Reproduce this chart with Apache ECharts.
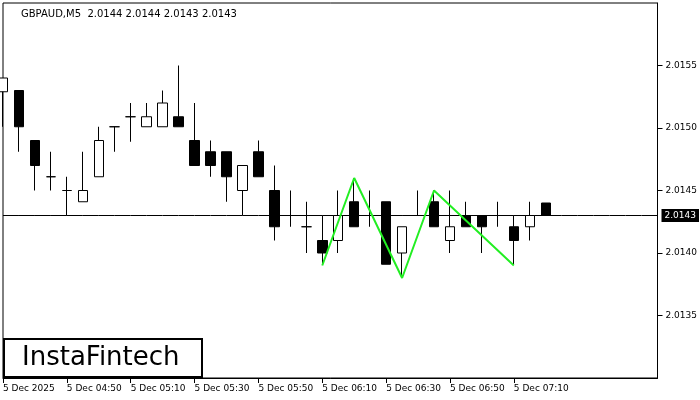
<!DOCTYPE html>
<html>
<head>
<meta charset="utf-8">
<script src="https://cdn.jsdelivr.net/npm/echarts@6/dist/echarts.min.js"></script>
<style>html,body{margin:0;padding:0;background:#fff}#chart{width:700px;height:400px}</style>
</head>
<body>
<div id="chart"></div>
<script>
// time labels, one per candle slot (4 candles = 20 min)
const times = []
for (let i = 0; i < 42; i++) {
  const m = 4 * 60 + 30 + i * 5
  const hh = String(Math.floor(m / 60)).padStart(2, '0')
  const mm = String(m % 60).padStart(2, '0')
  times.push(i === 0 ? '5 Dec 2025' : '5 Dec ' + hh + ':' + mm)
}

// open, close, low, high
const candles = [
  [2.01529, 2.01540, 2.01501, 2.01540],
  [2.01530, 2.01501, 2.01481, 2.01530],
  [2.01490, 2.01470, 2.01450, 2.01490],
  [2.01461, 2.01461, 2.01450, 2.01481],
  [2.01450, 2.01450, 2.01430, 2.01461],
  [2.01441, 2.01450, 2.01441, 2.01481],
  [2.01461, 2.01490, 2.01461, 2.01501],
  [2.01501, 2.01501, 2.01481, 2.01501],
  [2.01509, 2.01509, 2.01489, 2.01520],
  [2.01501, 2.01509, 2.01501, 2.01520],
  [2.01501, 2.01520, 2.01501, 2.01530],
  [2.01509, 2.01501, 2.01501, 2.01550],
  [2.01490, 2.01470, 2.01470, 2.01520],
  [2.01481, 2.01470, 2.01461, 2.01490],
  [2.01481, 2.01461, 2.01441, 2.01481],
  [2.01450, 2.01470, 2.01430, 2.01470],
  [2.01481, 2.01461, 2.01461, 2.01490],
  [2.01450, 2.01421, 2.01410, 2.01470],
  [2.01430, 2.01430, 2.01421, 2.01450],
  [2.01421, 2.01421, 2.01400, 2.01441],
  [2.01410, 2.01400, 2.01391, 2.01430],
  [2.01410, 2.01430, 2.01400, 2.01450],
  [2.01441, 2.01421, 2.01421, 2.01460],
  [2.01430, 2.01430, 2.01421, 2.01450],
  [2.01441, 2.01391, 2.01391, 2.01441],
  [2.01400, 2.01421, 2.01381, 2.01421],
  [2.01430, 2.01430, 2.01430, 2.01450],
  [2.01441, 2.01421, 2.01421, 2.01450],
  [2.01410, 2.01421, 2.01400, 2.01450],
  [2.01430, 2.01421, 2.01421, 2.01441],
  [2.01430, 2.01421, 2.01400, 2.01430],
  [2.01430, 2.01430, 2.01421, 2.01441],
  [2.01421, 2.01410, 2.01391, 2.01430],
  [2.01421, 2.01430, 2.01410, 2.01441],
  [2.01440, 2.01430, 2.01430, 2.01440]
]

// pattern line points: [candle index, price]
const pattern = [[20, 2.0139], [22, 2.0146], [25, 2.0138], [27, 2.0145], [32, 2.0139]]
const lastPrice = 2.0143

const patternData = times.map(() => null)
pattern.forEach(p => { patternData[p[0]] = p[1] })
const priceLine = times.map(() => lastPrice)

const showTick = i => i % 4 === 0 && i <= 32

const chart = echarts.init(document.getElementById('chart'))
chart.setOption({
  animation: false,
  textStyle: { fontFamily: 'DejaVu Sans' },
  grid: { left: 3, right: 40, top: 3, bottom: 22, show: true, borderColor: '#000', borderWidth: 1 },
  title: {
    text: 'GBPAUD,M5  2.0144 2.0144 2.0143 2.0143',
    left: 16, top: 4,
    textStyle: { fontSize: 10, fontWeight: 'normal', color: '#000' }
  },
  xAxis: {
    type: 'category',
    data: times,
    boundaryGap: false,
    axisLine: { lineStyle: { color: '#000' } },
    axisTick: { interval: showTick, lineStyle: { color: '#000' } },
    axisLabel: { interval: showTick, align: 'left', fontSize: 9, color: '#000', margin: 6 }
  },
  yAxis: {
    type: 'value',
    position: 'right',
    min: 2.0130, max: 2.0160, interval: 0.0005,
    splitLine: { show: false },
    axisLine: { show: true, lineStyle: { color: '#000' } },
    axisTick: { show: true, lineStyle: { color: '#000' } },
    axisLabel: {
      fontSize: 9, color: '#000', margin: 8,
      showMinLabel: false, showMaxLabel: false,
      formatter: v => v.toFixed(4)
    }
  },
  graphic: [
    { type: 'rect', left: 3, bottom: 22, shape: { width: 198, height: 38 },
      style: { fill: '#fff', stroke: '#000', lineWidth: 2 } },
    { type: 'text', left: 22, bottom: 29,
      style: { text: 'InstaFintech', fontSize: 26, fontFamily: 'DejaVu Sans', fill: '#000' } }
  ],
  series: [
    {
      type: 'line',
      data: priceLine,
      symbol: 'none',
      silent: true,
      lineStyle: { color: '#000', width: 1 },
      endLabel: {
        show: true, formatter: lastPrice.toFixed(4), color: '#fff',
        backgroundColor: '#000', fontSize: 9, padding: [2, 3], distance: 4
      },
      z: 1
    },
    {
      type: 'candlestick',
      data: candles,
      barWidth: 10,
      itemStyle: { color: '#fff', color0: '#000', borderColor: '#000', borderColor0: '#000', borderWidth: 1 },
      z: 2
    },
    {
      type: 'line',
      data: patternData,
      connectNulls: true,
      symbol: 'none',
      lineStyle: { color: '#22ee22', width: 2 },
      z: 3
    }
  ]
})
</script>
</body>
</html>
